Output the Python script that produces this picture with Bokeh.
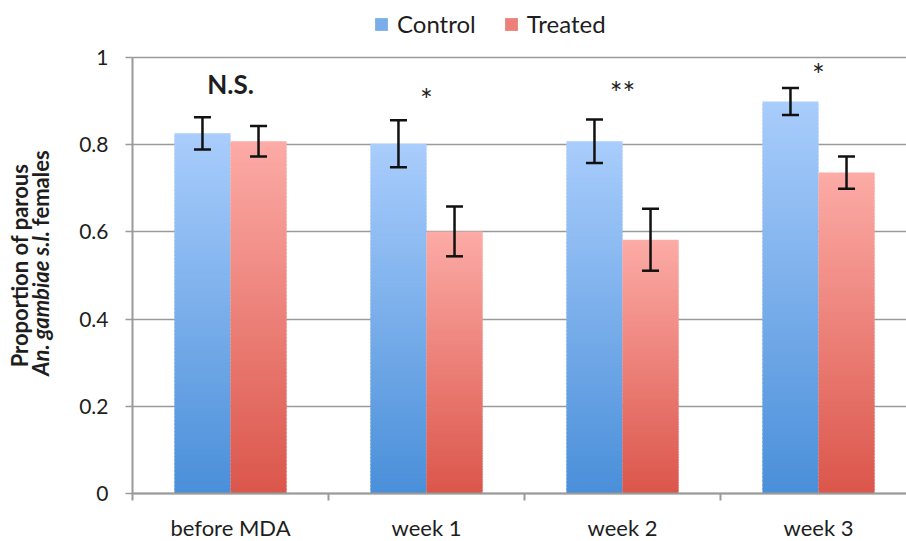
import math
from bokeh.plotting import figure
from bokeh.models import (ColumnDataSource, Whisker, TeeHead, FixedTicker, Label,
                          Legend, LegendItem)
from bokeh.core.properties import value
from bokeh.embed import file_html
from bokeh.resources import INLINE

# ---------------- data ----------------
categories = ["before MDA", "week 1", "week 2", "week 3"]
series_names = ["Control", "Treated"]
control = [0.826, 0.802, 0.808, 0.899]
control_err = [0.037, 0.054, 0.050, 0.031]
treated = [0.808, 0.601, 0.582, 0.736]
treated_err = [0.035, 0.057, 0.071, 0.037]
significance = ["N.S.", "*", "**", "*"]
sig_y = [0.940, 0.904, 0.922, 0.963]
y_ticks = [0, 0.2, 0.4, 0.6, 0.8, 1]
y_tick_labels = ["0", "0.2", "0.4", "0.6", "0.8", "1"]
y_title_1 = "Proportion of parous"
y_title_2_italic = "An. gambiae s.l."
y_title_2_normal = "females"

# ---------------- layout / style ----------------
W, H = 906, 541
AX_X, AX_Y = 132, 493          # pixel position of the axes corner
PX_X, PX_Y = 196.0, 436.0      # pixels per data unit
FONT = "Lato"
TXT = "#1e1e1e"
GRID = "#9a9a9a"
BAR_W = 0.286
CTRL_TOP, CTRL_BOT = "#a9cdfc", "#4a8fd9"
TRT_TOP, TRT_BOT = "#fcaba6", "#db564b"
N_SLICES = 100
TITLE_PX = 22                  # y-title font size (px)


def px_x(px):
    return (px - AX_X) / PX_X


def px_y(py):
    return (AX_Y - py) / PX_Y


def hex2rgb(h):
    h = h.lstrip("#")
    return tuple(int(h[i:i + 2], 16) for i in (0, 2, 4))


def mix(c0, c1, t):
    a, b = hex2rgb(c0), hex2rgb(c1)
    return "#%02x%02x%02x" % tuple(round(a[i] + (b[i] - a[i]) * t) for i in range(3))


def gradient_source(values, offset, top_c, bot_c):
    overlap = 1.5 / PX_Y
    d = dict(left=[], right=[], bottom=[], top=[], color=[])
    for i, v in enumerate(values):
        c = i + 0.5
        for k in range(N_SLICES):
            d["left"].append(c + offset)
            d["right"].append(c + offset + BAR_W)
            d["bottom"].append(v * k / N_SLICES)
            top = v * (k + 1) / N_SLICES
            d["top"].append(top + overlap if k < N_SLICES - 1 else top)
            d["color"].append(mix(bot_c, top_c, (k + 0.5) / N_SLICES))
    return ColumnDataSource(d)


x_start, x_end = px_x(0), px_x(W)
y_start, y_end = px_y(H), px_y(0)
p = figure(width=W, height=H, x_range=(x_start, x_end), y_range=(y_start, y_end),
           output_backend="svg", toolbar_location=None,
           min_border_left=0, min_border_right=0, min_border_top=0, min_border_bottom=0)
p.outline_line_color = None
p.background_fill_color = "white"

# grid lines (only across the plotting area)
p.xgrid.grid_line_color = None
p.ygrid.ticker = FixedTicker(ticks=y_ticks)
if "cross_bounds" in p.ygrid[0].properties():
    p.ygrid.cross_bounds = (0, x_end)
    p.ygrid.grid_line_color = GRID
    p.ygrid.grid_line_width = 1.6
else:
    p.ygrid.grid_line_color = None
    p.segment(x0=[0] * len(y_ticks), x1=[x_end] * len(y_ticks), y0=y_ticks, y1=y_ticks,
              line_color=GRID, line_width=1.6)

# bars (vertical colour gradient built from thin slices)
src_c = gradient_source(control, -BAR_W, CTRL_TOP, CTRL_BOT)
src_t = gradient_source(treated, 0.0, TRT_TOP, TRT_BOT)
r_c = p.quad(left="left", right="right", bottom="bottom", top="top", source=src_c,
             fill_color="color", line_color=None)
r_t = p.quad(left="left", right="right", bottom="bottom", top="top", source=src_t,
             fill_color="color", line_color=None)

# error bars
centers = [i + 0.5 for i in range(len(categories))]
err_src = ColumnDataSource(dict(
    x=[c - BAR_W / 2 for c in centers] + [c + BAR_W / 2 for c in centers],
    upper=[v + e for v, e in zip(control, control_err)] + [v + e for v, e in zip(treated, treated_err)],
    lower=[v - e for v, e in zip(control, control_err)] + [v - e for v, e in zip(treated, treated_err)],
))
whisk = Whisker(base="x", upper="upper", lower="lower", source=err_src, level="overlay",
                line_color="#111111", line_width=2.5,
                upper_head=TeeHead(size=17, line_color="#111111", line_width=2.5),
                lower_head=TeeHead(size=17, line_color="#111111", line_width=2.5))
p.add_layout(whisk)

# significance marks
sig_src = ColumnDataSource(dict(
    x=centers, y=sig_y, text=significance,
    style=["bold" if s == "N.S." else "normal" for s in significance],
    size=["26px" if s == "N.S." else "30px" for s in significance],
))
p.text(x="x", y="y", text="text", source=sig_src, text_font=value(FONT),
       text_font_style="style", text_font_size="size", text_color=TXT,
       text_align="center", text_baseline="middle")

# axes (drawn at fixed data locations inside the canvas)
p.yaxis.fixed_location = 0
p.yaxis.bounds = (0, 1)
p.yaxis.ticker = FixedTicker(ticks=y_ticks)
p.yaxis.major_label_overrides = {t: l for t, l in zip(y_ticks, y_tick_labels)}
p.yaxis.minor_tick_line_color = None
p.yaxis.major_tick_in = 0
p.yaxis.major_tick_out = 7
p.yaxis.major_tick_line_color = GRID
p.yaxis.major_tick_line_width = 1.6
p.yaxis.axis_line_color = GRID
p.yaxis.axis_line_width = 2
p.yaxis.major_label_standoff = 17
p.yaxis.major_label_text_font = FONT
p.yaxis.major_label_text_font_size = "21px"
p.yaxis.major_label_text_color = TXT

p.xaxis.fixed_location = 0
p.xaxis.bounds = (0, x_end)
p.xaxis.ticker = FixedTicker(ticks=centers, minor_ticks=list(range(len(categories) + 1)))
p.xaxis.major_label_overrides = {c: l for c, l in zip(centers, categories)}
p.xaxis.major_tick_in = 0
p.xaxis.major_tick_out = 0
p.xaxis.minor_tick_in = 0
p.xaxis.minor_tick_out = 7
p.xaxis.minor_tick_line_color = GRID
p.xaxis.minor_tick_line_width = 2
p.xaxis.axis_line_color = GRID
p.xaxis.axis_line_width = 2
p.xaxis.major_label_standoff = 13
p.xaxis.major_label_text_font = FONT
p.xaxis.major_label_text_font_size = "22px"
p.xaxis.major_label_text_color = TXT

# y-axis title (two lines, second partly italic)
common = dict(angle=math.pi / 2, text_baseline="middle", text_font=FONT,
              text_font_size=f"{TITLE_PX}px", text_color=TXT)
italic_len = 6.55 * TITLE_PX     # estimated rendered length of the italic part
normal_len = 3.18 * TITLE_PX     # estimated rendered length of "females"
gap = 0.25 * TITLE_PX
line2_start = 265.5 + (italic_len + gap + normal_len) / 2
p.add_layout(Label(x=px_x(19), y=px_y(265), text=y_title_1, text_align="center",
                   text_font_style="bold", **common))
p.add_layout(Label(x=px_x(40), y=px_y(line2_start), text=y_title_2_italic, text_align="left",
                   text_font_style="bold italic", **common))
p.add_layout(Label(x=px_x(40), y=px_y(line2_start - italic_len - gap), text=y_title_2_normal,
                   text_align="left", text_font_style="bold", **common))

# legend
legend = Legend(items=[LegendItem(label=series_names[0], renderers=[r_c], index=N_SLICES // 2),
                       LegendItem(label=series_names[1], renderers=[r_t], index=N_SLICES // 2)],
                orientation="horizontal", location=(373, H - 38),
                glyph_width=16, glyph_height=16, label_standoff=8, spacing=27,
                padding=0, margin=0, border_line_color=None, background_fill_alpha=0,
                label_text_font=FONT, label_text_font_size="24px", label_text_color=TXT)
p.add_layout(legend, "center")

open("out.html", "w").write(file_html(p, INLINE))
